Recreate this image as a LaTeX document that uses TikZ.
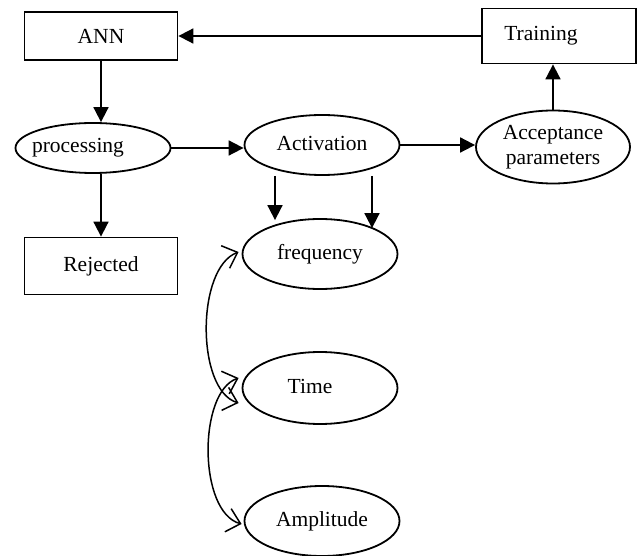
\documentclass[tikz,border=0pt]{standalone}
\usepackage{fontspec}
\setmainfont{Liberation Serif}
\usetikzlibrary{shapes.geometric,arrows.meta}
\tikzset{
  box/.style={draw, line width=1.8pt, rectangle, minimum width=153pt, minimum height=48pt, inner sep=0pt},
  oval/.style={draw, line width=1.8pt, ellipse, minimum width=155pt, minimum height=60pt, inner sep=0pt, align=center},
  flow/.style={line width=1.8pt, -{Triangle[length=15pt,width=15pt]}},
  link/.style={line width=1.5pt, {Straight Barb[length=13pt,width=24pt,line width=1.5pt]}-{Straight Barb[length=13pt,width=24pt,line width=1.5pt]}},
}
\begin{document}
\begin{tikzpicture}[x=1pt, y=-1pt, font=\fontsize{21.5}{23}\selectfont]
\useasboundingbox (0,0) rectangle (638,556);

% boxes
\node[box] (ann) at (101,36) {ANN};
\node[box, minimum width=154pt, minimum height=55pt] (train) at (559,36) {\hspace*{-36pt}Training};
\node[box, minimum height=57pt] (rej) at (101,266) {Rejected};

% ellipses
\node[oval, minimum height=50pt] (proc) at (93,148) {\hspace*{-30pt}processing};
\node[oval] (act) at (322,145) {\raisebox{4pt}{Activation}};
\node[oval, minimum width=154pt, minimum height=73pt] (acc) at (553,147) {Acceptance\\[2pt]parameters};
\node[oval, minimum height=70pt] (freq) at (320,254) {\raisebox{4pt}{frequency}};
\node[oval, minimum height=72pt] (time) at (320,388) {\hspace*{-20pt}\raisebox{4pt}{Time}};
\node[oval, minimum height=70pt] (amp) at (322,521) {Amplitude};

% main flow
\draw[flow] (train.west) -- (ann.east |- train.west);
\draw[flow] (ann.south) -- (proc.north -| ann.south);
\draw[flow] (proc.south -| ann.south) -- (rej.north);
\draw[flow] (proc.east) -- (act.west |- proc.east);
\draw[flow] (act.east) -- (acc.west |- act.east);
\draw[flow] (acc.north) -- (train.south -| acc.north);
\draw[flow] ([xshift=-47pt]act.south) -- ([xshift=-45pt,yshift=-2pt]freq.north);
\draw[flow] ([xshift=50pt]act.south) -- ([xshift=52pt,yshift=-10pt]freq.north);

% links between the measured quantities
\coordinate (f1) at ([shift={(-3,-2)}]freq.west);
\coordinate (t1) at ([shift={(-3,-10)}]time.west);
\coordinate (t2) at ([shift={(-3,15)}]time.west);
\coordinate (a1) at ([shift={(-2,3)}]amp.west);
\draw[link] (f1) .. controls (196,268) and (196,390) .. (t2);
\draw[link] (t1) .. controls (198,392) and (198,512) .. (a1);
\end{tikzpicture}
\end{document}
